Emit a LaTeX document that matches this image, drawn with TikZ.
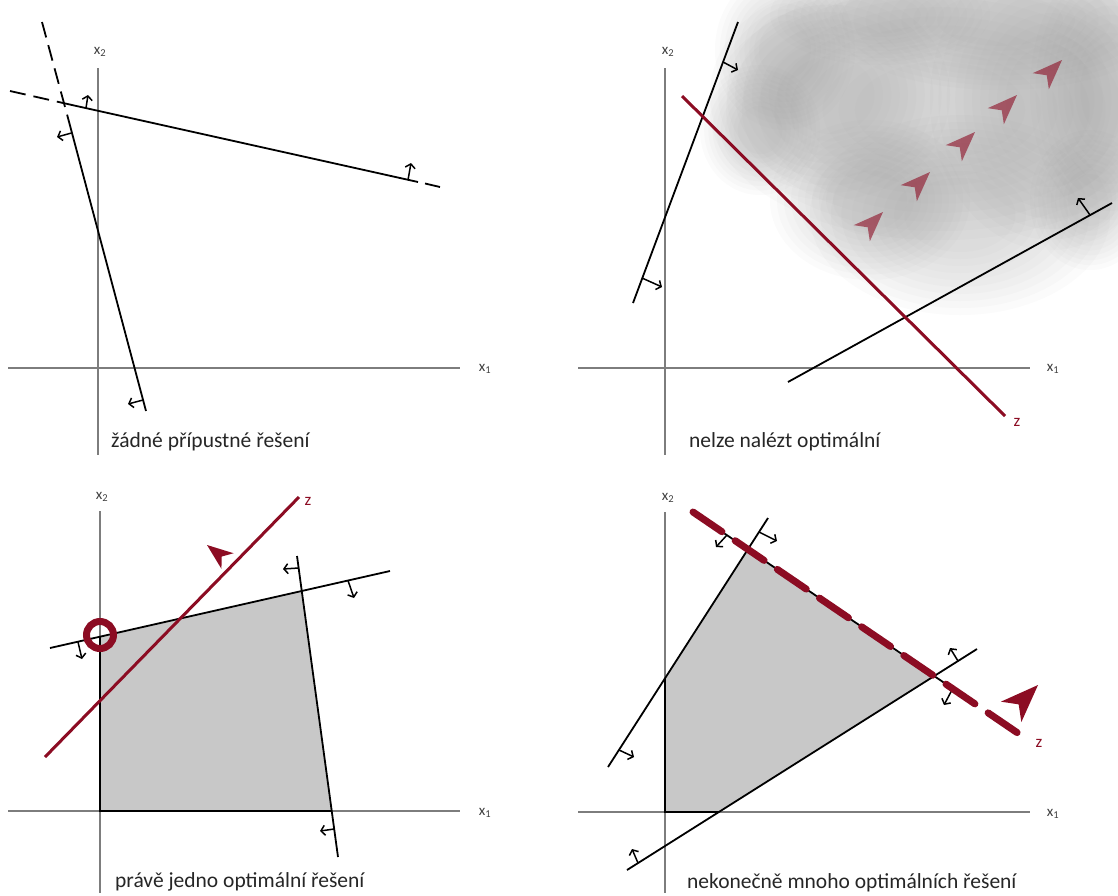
\documentclass[tikz,border=0pt]{standalone}
\usepackage{fontspec}
\setmainfont{Carlito}
\usetikzlibrary{arrows.meta}
\definecolor{zred}{RGB}{140,12,35}
\definecolor{feas}{RGB}{200,200,200}
\definecolor{axgray}{RGB}{125,125,125}
\begin{document}
\begin{tikzpicture}[x=1pt,y=-1pt,
  axis/.style={axgray,line width=1.1pt},
  cline/.style={black,line width=1.8pt},
  edge/.style={black,line width=2.2pt},
  tickarrow/.style={black,line width=1.5pt,-{Straight Barb[length=4pt,width=10pt]}},
  zline/.style={zred,line width=3pt},
  axlabel/.style={text=black!75,font=\fontsize{15}{15}\selectfont,inner sep=0pt},
  caption/.style={anchor=base west,inner sep=0pt,text=black!85,font=\fontsize{21.5}{24}\selectfont},
  zlabel/.style={text=zred,font=\fontsize{17}{17}\selectfont,inner sep=0pt},
  cloudlayer/.style={black!45, fill opacity=0.03},
  redhead/.pic={\fill (0,0) -- (-1,0.38) -- (-0.72,0) -- (-1,-0.38) -- cycle;},
]
\useasboundingbox (0,0) rectangle (1118,895);
\fill[white] (0,0) rectangle (1118,895);

% ---------- cloud (panel 2) ----------
\begin{scope}
\clip (0,0) rectangle (1118,895);
\foreach \cx/\cy/\rx/\ry in {940/110/230/130, 1050/100/120/150, 960/215/150/100, 830/95/120/105,
  870/200/100/80, 1000/20/170/70, 785/50/70/80, 1090/200/60/70, 1110/90/80/130,
  760/130/60/65, 880/15/110/50}
  \foreach \s in {1.0,0.93,0.86,0.79,0.72,0.65,0.58,0.51,0.44,0.37}
    \fill[cloudlayer] (\cx,\cy) ellipse [x radius={\s*\rx*1pt}, y radius={\s*\ry*1pt}];
\end{scope}

% ================= Panel 1 =================
\draw[axis] (98,68) -- (98,455);
\draw[axis] (8,368) -- (460,368);
\node[axlabel] (p1x2) at (100,52) {x\textsubscript{2}};
\node[axlabel] (p1x1) at (485,369) {x\textsubscript{1}};
% line A
\draw[cline, dash pattern=on 16pt off 8pt] (42,22) -- (68,118);
\draw[cline] (68,118) -- (146,411);
% line B
\draw[cline, dash pattern=on 16pt off 8pt] (10,91) -- (72,105);
\draw[cline] (72,105) -- (418,182);
\draw[cline] (425,183.5) -- (440,187);
\draw[tickarrow] (86,108) -- (88,95);
\draw[tickarrow] (408,180) -- (411,163);
\draw[tickarrow] (71.5,133) -- (57,137);
\draw[tickarrow] (143,400) -- (128,404);
\node[caption] (c1) at (111,447) {žádné přípustné řešení};

% ================= Panel 2 =================
\draw[axis] (665,68) -- (665,455);
\draw[axis] (578,368) -- (1030,368);
\node[axlabel] (p2x2) at (668,52) {x\textsubscript{2}};
\node[axlabel] (p2x1) at (1053,369) {x\textsubscript{1}};
\draw[cline] (738,22) -- (633,303);
\draw[cline] (788,382) -- (1112,203);
\draw[tickarrow] (723,62) -- (738,70);
\draw[tickarrow] (642,278) -- (662,287);
\draw[tickarrow] (1090,215) -- (1078,198);
\draw[zline] (682,96) -- (1005,416);
\node[zlabel] (z2) at (1017,422) {z};
\foreach \px/\py in {883/212, 930/172, 975/132, 1017/95, 1062/60}
  \pic[zred, opacity=0.6, scale=30, rotate=45] at (\px,\py) {redhead};
\node[caption] (c2) at (689,447) {nelze nalézt optimální};

% ================= Panel 3 =================
\fill[feas] (100,636.7) -- (301.8,591) -- (331.7,811) -- (100,811) -- cycle;
\draw[axis] (100,511) -- (100,893);
\draw[axis] (8,811) -- (460,811);
\draw[edge] (100,636.7) -- (100,811) -- (331.7,811);
\node[axlabel] (p3x2) at (102,497) {x\textsubscript{2}};
\node[axlabel] (p3x1) at (485,813) {x\textsubscript{1}};
\draw[cline] (50,648) -- (390,571);
\draw[cline] (297,556) -- (338,857);
\draw[tickarrow] (78,642) -- (82,659);
\draw[tickarrow] (348,580.5) -- (354,598);
\draw[tickarrow] (298.6,568) -- (283,569);
\draw[tickarrow] (334.2,829) -- (320,831);
\draw[zline] (45,757) -- (299,497);
\node[zlabel] (z3) at (308,501) {z};
\draw[zred, line width=7pt] (100,635) circle [radius=13.5pt];
\pic[zred, scale=26, rotate=142] at (207,545) {redhead};
\node[caption] (c3) at (115,887) {právě jedno optimální řešení};

% ================= Panel 4 =================
\fill[feas] (665,812) -- (665,678) -- (747.7,549.6) -- (933,677) -- (718.9,812) -- cycle;
\draw[axis] (665,512) -- (665,893);
\draw[axis] (578,812) -- (1030,812);
\draw[edge] (665,678) -- (665,812) -- (718.9,812);
\node[axlabel] (p4x2) at (668,498) {x\textsubscript{2}};
\node[axlabel] (p4x1) at (1053,814) {x\textsubscript{1}};
\draw[cline] (608,767) -- (768,518);
\draw[cline] (627,870) -- (977,649);
\draw[cline] (712,525) -- (968,699);
\draw[tickarrow] (759,532) -- (777,541);
\draw[tickarrow] (619,750) -- (634,757);
\draw[tickarrow] (958,661) -- (950,648);
\draw[tickarrow] (638,863) -- (632,849);
\draw[tickarrow] (727,535) -- (716,547);
\draw[tickarrow] (953,688) -- (944,705);
\draw[zred, line width=7pt, line cap=round, dash pattern=on 35pt off 16pt] (693,512) -- (1028,740);
\node[zlabel] (z4) at (1039,743) {z};
\pic[zred, scale=38, rotate=45] at (1038,685) {redhead};
\node[caption] (c4) at (687,888) {nekonečně mnoho optimálních řešení};
\end{tikzpicture}
\end{document}
